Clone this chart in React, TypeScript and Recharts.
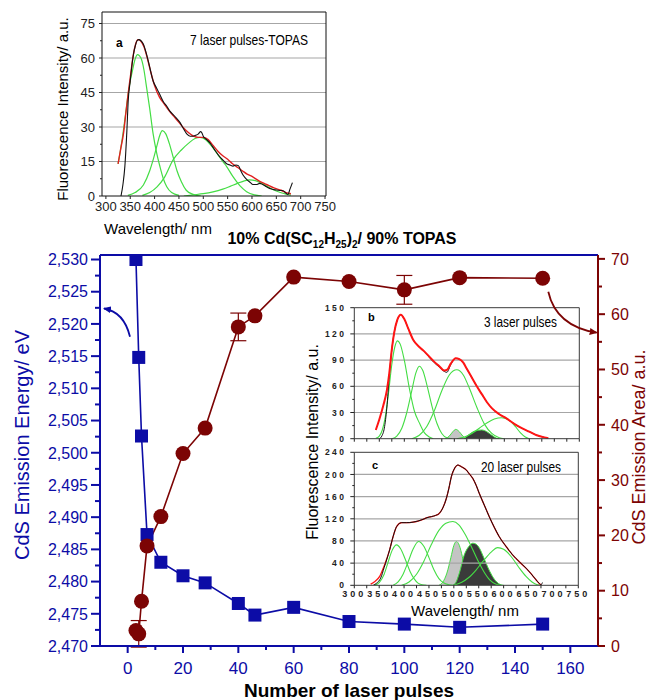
import React from "react";
import { Area, ComposedChart, ErrorBar, Line, ReferenceLine, XAxis, YAxis } from "recharts";

const FONT = "'Liberation Sans', Arial, Helvetica, sans-serif";
const BLUE = "#0c0ca6";
const MAROON = "#7c0404";
const GREEN = "#44dd44";
const RED = "#ff1414";
const GRID = "#a6a6a6";
const FRAME = "#3a3a3a";

// ---- main chart: CdS emission energy / area vs. number of laser pulses
const pulses = [3, 4, 5, 7, 12, 20, 28, 40, 46, 60, 80, 100, 120, 150];
const energy = [2.53, 2.5148, 2.5026, 2.4873, 2.483, 2.4809, 2.4798, 2.4766, 2.4748, 2.476, 2.4738, 2.4734, 2.4729, 2.4734];
const emissionArea = [2.8, 2.2, 8.1, 18.1, 23.4, 34.8, 39.4, 57.7, 59.7, 66.7, 65.9, 64.4, 66.6, 66.5];
const areaErr = [0, 2.4, 0, 0, 0, 0, 0, 2.5, 0, 0, 0, 2.6, 0, 0];

const pulseTicks = [0, 10, 20, 30, 40, 50, 60, 70, 80, 90, 100, 110, 120, 130, 140, 150, 160];
const energyTicks = [
  2.47, 2.4725, 2.475, 2.4775, 2.48, 2.4825, 2.485, 2.4875, 2.49, 2.4925, 2.495, 2.4975, 2.5,
  2.5025, 2.505, 2.5075, 2.51, 2.5125, 2.515, 2.5175, 2.52, 2.5225, 2.525, 2.5275, 2.53,
];
const areaTicks = [0, 5, 10, 15, 20, 25, 30, 35, 40, 45, 50, 55, 60, 65, 70];

// ---- inset a: 7 laser pulses-TOPAS
type Pt = [number, number];
const aMeasured: Pt[] = [
  [331, 0], [335, 5], [339, 13], [343, 28], [346, 42], [350, 50], [353, 56], [357, 62], [360, 65], [364, 67.5],
  [368, 68], [372, 67.5], [377, 66], [383, 62], [390, 56], [397, 50], [404, 47], [411, 44], [418, 41], [425, 39],
  [431, 37], [440, 35], [452, 32], [460, 29], [466, 27], [473, 26], [479, 26], [486, 26.5], [490, 27], [494, 28],
  [497, 27.5], [500, 26], [507, 24.5], [514, 23], [522, 20.5], [534, 17], [541, 15.5], [548, 14], [555, 13.5],
  [561, 13], [567, 13.5], [572, 13.2], [577, 11], [582, 9], [590, 7], [596, 6], [602, 5], [609, 5], [616, 5.5],
  [622, 5], [630, 4], [640, 3], [650, 2.6], [658, 2.4], [664, 2.3], [670, 1.2], [674, 0.7], [678, 3], [683, 5.8],
];
const aFit: Pt[] = [
  [325, 14], [330, 20], [336, 27], [341, 36], [346, 45], [351, 53], [356, 61], [361, 66], [366, 68], [371, 67.5],
  [378, 65], [385, 60], [392, 54], [400, 48], [410, 43], [420, 40], [430, 37], [440, 34.5], [450, 32], [460, 29.5],
  [470, 27.5], [480, 26], [490, 25.5], [500, 25.5], [510, 24.5], [520, 22], [530, 19.5], [540, 17.5], [550, 16],
  [560, 14], [570, 12.5], [580, 11], [590, 9.5], [600, 8.5], [615, 6.5], [630, 5], [645, 3.5], [660, 2.5], [670, 1.5], [680, 1],
];
const aPeak1: Pt[] = [
  [325, 14], [330, 20], [335, 27], [340, 35], [346, 44.7], [350, 50], [355, 55], [360, 59.5], [365, 61.5], [372, 60],
  [378, 55], [383, 48], [390, 38], [397, 27], [404, 19], [411, 12.8], [418, 7.5], [425, 4], [435, 1.5], [450, 0.3],
];
const aPeak2: Pt[] = [
  [345, 0.3], [360, 1.5], [377, 4.8], [390, 11], [397, 15.7], [405, 22], [410, 26], [416, 28.4], [423, 27], [430, 23],
  [438, 17], [446, 11], [455, 6.2], [465, 2.5], [479, 0.7], [495, 0],
];
const aPeak3: Pt[] = [
  [375, 0.3], [390, 1.5], [405, 4], [420, 8], [438, 15.7], [455, 20], [470, 23], [483, 25], [493, 25.5], [505, 24.5],
  [518, 21.5], [530, 18], [540, 15], [548, 12.8], [561, 8.4], [575, 4.5], [589, 1.9], [605, 0.5], [620, 0],
];
const aPeak4: Pt[] = [
  [460, 0], [480, 0.5], [500, 1], [520, 1.8], [540, 3], [555, 4.2], [570, 5.5], [583, 6.5], [595, 7], [607, 6.7],
  [620, 5.5], [633, 4], [645, 2.6], [658, 1.5], [670, 0.8], [680, 0.4],
];

// ---- inset b: 3 laser pulses
const bMeasured: Pt[] = [
  [350, 0], [355, 3], [360, 12], [365, 35], [370, 72], [375, 102], [380, 122], [386, 136], [393, 142], [400, 137],
  [408, 126], [418, 113], [430, 105], [440, 100], [450, 93], [460, 87], [470, 82], [480, 77], [485, 76], [493, 85],
  [503, 92], [510, 91], [518, 87], [525, 80], [535, 70], [545, 60], [555, 51], [565, 42], [575, 35], [590, 28],
  [605, 23], [620, 17], [635, 12], [650, 8], [665, 4], [680, 1.5], [688, 0.5],
];
const bFit: Pt[] = [
  [343, 10], [350, 22], [358, 38], [365, 55], [370, 75], [375, 102], [380, 122], [386, 136], [393, 142], [400, 137],
  [408, 126], [418, 113], [430, 105], [440, 100], [450, 94], [460, 88], [470, 83], [480, 78], [486, 79], [493, 86],
  [503, 92], [510, 91], [518, 87], [525, 80], [535, 70], [545, 60], [555, 51], [565, 42], [575, 35], [590, 28],
  [605, 23], [620, 17], [635, 12], [650, 8], [665, 4], [680, 1.5], [688, 0.5],
];
const bPeak1: Pt[] = [
  [343, 0.5], [350, 3], [356, 10], [362, 25], [368, 50], [375, 85], [381, 105], [386, 112], [392, 108], [400, 90],
  [411, 55], [420, 32], [431, 17], [440, 7], [450, 2], [458, 0],
];
const bPeak2: Pt[] = [
  [375, 0], [385, 3], [395, 12], [405, 30], [415, 55], [423, 75], [430, 83], [437, 78], [445, 62], [455, 38],
  [465, 18], [475, 6], [485, 1], [495, 0],
];
const bPeak3: Pt[] = [
  [415, 0], [430, 4], [445, 14], [460, 32], [475, 55], [490, 73], [505, 79], [518, 73], [530, 58], [545, 36],
  [560, 17], [575, 6], [590, 1], [600, 0],
];
const bPeak4: Pt[] = [
  [505, 0], [520, 2], [535, 6], [550, 12], [565, 18], [580, 22.5], [595, 24], [610, 21], [622, 14], [632, 7], [642, 2], [650, 0],
];
const bGrey: Pt[] = [[482, 0], [490, 3], [497, 8], [503, 10.7], [510, 8], [517, 3], [523, 0]];
const bDark: Pt[] = [[520, 0], [530, 5], [540, 8.5], [555, 10], [565, 8], [575, 4], [585, 0.5], [590, 0]];

// ---- inset c: 20 laser pulses
const cMeasured: Pt[] = [
  [338, 0], [345, 4], [353, 13], [360, 32], [371, 64], [378, 88], [385, 106], [395, 113], [405, 113], [418, 114],
  [428, 116], [438, 119], [446, 122], [455, 124], [463, 126], [471, 130], [478, 140], [485, 157], [490, 175],
  [495, 196], [502, 212], [508, 217], [515, 214], [525, 208], [532, 200], [538, 193], [545, 180], [551, 166],
  [561, 145], [571, 124], [581, 105], [591, 88], [605, 70], [618, 55], [632, 42], [645, 31], [655, 21], [665, 10],
  [672, 3], [675, 1], [678, 5],
];
const cFit: Pt[] = [
  [333, 2], [340, 6], [351, 16], [360, 35], [371, 64], [378, 88], [385, 106], [395, 113], [405, 113], [418, 114],
  [428, 116], [438, 119], [446, 122], [455, 124], [463, 126], [471, 130], [478, 140], [485, 157], [490, 175],
  [495, 196], [502, 212], [508, 217], [515, 214], [525, 208], [532, 200], [538, 193], [545, 180], [551, 166],
  [561, 145], [571, 124], [581, 105], [591, 88], [605, 70], [618, 55], [632, 42], [645, 31], [655, 21], [665, 10],
  [672, 3], [676, 0.5],
];
const cPeak1: Pt[] = [
  [340, 0], [350, 5], [360, 20], [368, 42], [376, 63], [385, 73], [393, 66], [402, 48], [412, 25], [420, 12],
  [428, 4], [436, 1], [445, 0],
];
const cPeak2: Pt[] = [
  [378, 0], [388, 6], [398, 20], [408, 42], [418, 65], [429, 79], [440, 70], [450, 50], [460, 28], [470, 12],
  [480, 4], [490, 1], [498, 0],
];
const cPeak3: Pt[] = [
  [395, 0], [410, 6], [425, 20], [440, 44], [455, 74], [470, 99], [484, 112], [498, 115], [510, 109], [522, 93],
  [535, 70], [548, 45], [560, 25], [572, 10], [585, 2], [595, 0],
];
const cPeak6: Pt[] = [
  [500, 0], [515, 5], [530, 14], [545, 28], [560, 45], [575, 60], [588, 68], [600, 65], [615, 52], [630, 33],
  [645, 16], [657, 6], [668, 1], [675, 0],
];
const cGrey: Pt[] = [
  [470, 0], [478, 6], [486, 22], [494, 50], [500, 72], [505, 79], [511, 72], [517, 52], [523, 28], [530, 10], [537, 2], [542, 0],
];
const cDark: Pt[] = [
  [498, 0], [504, 5], [511, 22], [521, 55], [530, 70], [538, 76], [545, 74], [552, 66], [560, 50], [568, 33],
  [577, 17], [586, 6], [594, 1], [600, 0],
];

const waveTicks = [300, 325, 350, 375, 400, 425, 450, 475, 500, 525, 550, 575, 600, 625, 650, 675, 700, 725, 750];
const aWaveTicks = [300, 350, 400, 450, 500, 550, 600, 650, 700, 750];
const aIntTicks = [0, 7.5, 15, 22.5, 30, 37.5, 45, 52.5, 60, 67.5, 75];
const aGrid = [15, 30, 45, 60, 75];
const bIntTicks = [0, 15, 30, 45, 60, 75, 90, 105, 120, 135, 150];
const bGrid = [30, 60, 90, 120];
const cIntTicks = [0, 20, 40, 60, 80, 100, 120, 140, 160, 180, 200, 220, 240];
const cGrid = [40, 80, 120, 160, 200];

const mainData = pulses.map((p, i) => ({ p, energy: energy[i], area: emissionArea[i], err: areaErr[i] }));
const pts = (a: Pt[]) => a.map(([x, y]) => ({ x, y }));

// tick renderer with major/minor marks; tickSize/tickMargin are 0 so x,y sit on the axis line
type TickOpt = {
  side: "left" | "right" | "bottom";
  step: number;
  len: number;
  minorLen: number;
  gap: number;
  color: string;
  size: number;
  weight?: number | string;
  spacing?: number;
  labels?: boolean;
  line?: string;
  sw?: number;
  fmt?: (v: number) => string;
};

const makeTick = (o: TickOpt) => (props: any) => {
  const { x, y, payload } = props;
  const v = payload.value as number;
  const r = v / o.step;
  const major = Math.abs(r - Math.round(r)) < 1e-6;
  const len = major ? o.len : o.minorLen;
  const label = major && o.labels !== false ? (o.fmt ? o.fmt(v) : String(v)) : null;
  const stroke = o.line ?? o.color;
  const sw = o.sw ?? 1;
  const txt = { fill: o.color, fontSize: o.size, fontFamily: FONT, fontWeight: o.weight, letterSpacing: o.spacing };
  if (o.side === "bottom") {
    return (
      <g>
        <line x1={x} y1={y} x2={x} y2={y + len} stroke={stroke} strokeWidth={sw} />
        {label && (
          <text x={x} y={y + len + o.gap} dy="0.75em" textAnchor="middle" {...txt}>
            {label}
          </text>
        )}
      </g>
    );
  }
  const dir = o.side === "left" ? -1 : 1;
  return (
    <g>
      <line x1={x} y1={y} x2={x + dir * len} y2={y} stroke={stroke} strokeWidth={sw} />
      {label && (
        <text x={x + dir * (len + o.gap)} y={y} dy="0.36em" textAnchor={dir < 0 ? "end" : "start"} {...txt}>
          {label}
        </text>
      )}
    </g>
  );
};

const mainXTick = makeTick({ side: "bottom", step: 20, len: 7, minorLen: 4, gap: 8, color: BLUE, size: 17, sw: 2 });
const energyTick = makeTick({
  side: "left", step: 0.005, len: 9, minorLen: 5, gap: 3, color: BLUE, size: 16, sw: 2,
  fmt: (v) => v.toFixed(3).replace(".", ","),
});
const areaTick = makeTick({ side: "right", step: 10, len: 7, minorLen: 4, gap: 6, color: MAROON, size: 16, sw: 2 });

const aXTick = makeTick({ side: "bottom", step: 50, len: 3, minorLen: 2, gap: 2, color: "#222", size: 13 });
const aYTick = makeTick({ side: "left", step: 15, len: 3, minorLen: 2, gap: 4, color: "#222", size: 13 });
const bXTick = makeTick({ side: "bottom", step: 50, len: 3, minorLen: 3, gap: 2, color: "#222", size: 9, labels: false });
const cXTick = makeTick({ side: "bottom", step: 50, len: 3, minorLen: 3, gap: 2, color: "#222", size: 9, spacing: 3, weight: 600 });
const bYTick = makeTick({ side: "left", step: 30, len: 4, minorLen: 2, gap: 4, color: "#222", size: 8.5, spacing: 2.4, weight: 600 });
const cYTick = makeTick({ side: "left", step: 40, len: 4, minorLen: 2, gap: 4, color: "#222", size: 8.5, spacing: 2.4, weight: 600 });

const squareDot = (p: any) => (
  <rect key={`sq${p.index}`} x={p.cx - 6.5} y={p.cy - 6.5} width={13} height={13} fill={BLUE} />
);

function MainChart() {
  return (
    <div style={{ position: "absolute", left: 0, top: 0 }}>
      <ComposedChart width={648} height={700} data={mainData} margin={{ top: 255, right: 6, bottom: 24, left: 40 }}>
        <XAxis
          type="number" dataKey="p" domain={[-10, 170]} ticks={pulseTicks} interval={0} allowDataOverflow height={30}
          tickLine={false} tickSize={0} tickMargin={0} axisLine={{ stroke: BLUE, strokeWidth: 2 }} tick={mainXTick}
        />
        <YAxis
          yAxisId="e" type="number" domain={[2.47, 2.5307]} ticks={energyTicks} interval={0} allowDataOverflow width={60}
          tickLine={false} tickSize={0} tickMargin={0} axisLine={{ stroke: BLUE, strokeWidth: 2 }} tick={energyTick}
        />
        <YAxis
          yAxisId="a" orientation="right" type="number" domain={[0, 70.7]} ticks={areaTicks} interval={0} allowDataOverflow
          width={44} tickLine={false} tickSize={0} tickMargin={0} axisLine={{ stroke: MAROON, strokeWidth: 2 }} tick={areaTick}
        />
        <ReferenceLine yAxisId="e" y={2.5307} stroke={BLUE} strokeWidth={2} />
        <Line
          yAxisId="e" dataKey="energy" type="linear" stroke={BLUE} strokeWidth={1.6} dot={squareDot} activeDot={false}
          isAnimationActive={false}
        />
        <Line
          yAxisId="a" dataKey="area" type="linear" stroke={MAROON} strokeWidth={1.6}
          dot={{ r: 7.5, fill: MAROON, stroke: "none" }} activeDot={false} isAnimationActive={false}
        >
          <ErrorBar dataKey="err" width={8} stroke={MAROON} strokeWidth={1.2} direction="y" />
        </Line>
      </ComposedChart>
    </div>
  );
}

type Box = { l: number; r: number; t: number; b: number };
type InsetProps = {
  box: Box;
  xDomain: [number, number];
  yDomain: [number, number];
  xTicks: number[];
  yTicks: number[];
  grid: number[];
  xTick: any;
  yTick: any;
  xAxisH: number;
  frame: string;
  children: React.ReactNode;
};

function Inset({ box, xDomain, yDomain, xTicks, yTicks, grid, xTick, yTick, xAxisH, frame, children }: InsetProps) {
  return (
    <div style={{ position: "absolute", left: 0, top: 0 }}>
      <ComposedChart
        width={648}
        height={700}
        margin={{ top: box.t, left: box.l - 40, right: 648 - box.r, bottom: 700 - box.b - xAxisH }}
      >
        <XAxis
          type="number" dataKey="x" domain={xDomain} ticks={xTicks} interval={0} allowDataOverflow height={xAxisH}
          tickLine={false} tickSize={0} tickMargin={0} axisLine={{ stroke: frame }} tick={xTick}
        />
        <YAxis
          type="number" domain={yDomain} ticks={yTicks} interval={0} allowDataOverflow width={40}
          tickLine={false} tickSize={0} tickMargin={0} axisLine={{ stroke: frame }} tick={yTick}
        />
        {grid.map((g) => (
          <ReferenceLine key={g} y={g} stroke={GRID} strokeWidth={1.2} />
        ))}
        <ReferenceLine y={yDomain[1]} stroke={frame} />
        <ReferenceLine x={xDomain[1]} stroke={frame} />
        {children}
      </ComposedChart>
    </div>
  );
}

const curve = (data: Pt[], color: string, width: number, key: string) => (
  <Line
    key={key} data={pts(data)} dataKey="y" type="monotone" stroke={color} strokeWidth={width}
    dot={false} activeDot={false} isAnimationActive={false}
  />
);
const filled = (data: Pt[], fill: string, key: string) => (
  <Area
    key={key} data={pts(data)} dataKey="y" type="monotone" stroke={GREEN} strokeWidth={1} fill={fill}
    fillOpacity={1} dot={false} activeDot={false} isAnimationActive={false}
  />
);

function Labels() {
  const t = { fontFamily: FONT };
  return (
    <svg width={648} height={700} style={{ position: "absolute", left: 0, top: 0, pointerEvents: "none" }}>
      <defs>
        <marker id="hb" markerWidth="8" markerHeight="8" refX="7" refY="4" orient="auto" markerUnits="userSpaceOnUse">
          <path d="M0,0.5 L8,4 L0,7.5 z" fill={BLUE} />
        </marker>
        <marker id="hr" markerWidth="8" markerHeight="8" refX="7" refY="4" orient="auto" markerUnits="userSpaceOnUse">
          <path d="M0,0.5 L8,4 L0,7.5 z" fill={MAROON} />
        </marker>
      </defs>
      {/* inset a */}
      <text x={116} y={47} fontSize={12} fontWeight="bold" {...t}>a</text>
      <text x={190} y={45} fontSize={15} textLength={118} lengthAdjust="spacingAndGlyphs" {...t}>7 laser pulses-TOPAS</text>
      <text x={62} y={109} fontSize={15} textAnchor="middle" dominantBaseline="central" transform="rotate(-90 62 109)" {...t}>
        Fluorescence Intensity/ a.u.
      </text>
      <text x={158} y={234} fontSize={15} textAnchor="middle" {...t}>Wavelength/ nm</text>
      {/* title */}
      <text x={342} y={244} fontSize={16} fontWeight="bold" textAnchor="middle" {...t}>
        10% Cd(SC<tspan fontSize={10} dy={4}>12</tspan>
        <tspan dy={-4}>H</tspan>
        <tspan fontSize={10} dy={4}>25</tspan>
        <tspan dy={-4}>)</tspan>
        <tspan fontSize={10} dy={4}>2</tspan>
        <tspan dy={-4}>/ 90% TOPAS</tspan>
      </text>
      {/* main axis titles */}
      <text x={22} y={445} fontSize={20} fill={BLUE} textAnchor="middle" dominantBaseline="central" transform="rotate(-90 22 445)" {...t}>
        CdS Emission Energy/ eV
      </text>
      <text x={639} y={447} fontSize={18} fill={MAROON} textAnchor="middle" dominantBaseline="central" transform="rotate(-90 639 447)" {...t}>
        CdS Emission Area/ a.u.
      </text>
      <text x={349} y={697} fontSize={19} fontWeight="bold" textAnchor="middle" {...t}>Number of laser pulses</text>
      {/* insets b, c */}
      <text x={368} y={321} fontSize={11} fontWeight="bold" {...t}>b</text>
      <text x={484} y={327} fontSize={14} textLength={73} lengthAdjust="spacingAndGlyphs" {...t}>3 laser pulses</text>
      <text x={372} y={469} fontSize={11} fontWeight="bold" {...t}>c</text>
      <text x={481} y={472} fontSize={14} textLength={80} lengthAdjust="spacingAndGlyphs" {...t}>20 laser pulses</text>
      <text x={312} y={442} fontSize={16} textAnchor="middle" dominantBaseline="central" transform="rotate(-90 312 442)" {...t}>
        Fluorescence Intensity/ a.u.
      </text>
      <text x={465} y={616} fontSize={15} textAnchor="middle" {...t}>Wavelength/ nm</text>
      {/* arrows pointing at the axes */}
      <path d="M130 336.7 Q124 312 104 308.5" fill="none" stroke={BLUE} strokeWidth={1.8} markerEnd="url(#hb)" />
      <path d="M548.3 291.7 Q556 326 596.7 332.7" fill="none" stroke={MAROON} strokeWidth={1.8} markerEnd="url(#hr)" />
    </svg>
  );
}

export default function App() {
  return (
    <div style={{ position: "absolute", left: 0, top: 0, width: 648, height: 700, background: "#fff", overflow: "hidden" }}>
      <MainChart />
      <Inset
        box={{ l: 102, r: 326, t: 12, b: 196 }} xDomain={[292, 752]} yDomain={[0, 80]} xTicks={aWaveTicks}
        yTicks={aIntTicks} grid={aGrid} xTick={aXTick} yTick={aYTick} xAxisH={20} frame="#111"
      >
        {curve(aPeak1, GREEN, 1.2, "a1")}
        {curve(aPeak2, GREEN, 1.2, "a2")}
        {curve(aPeak3, GREEN, 1.2, "a3")}
        {curve(aPeak4, GREEN, 1.2, "a4")}
        {curve(aFit, "#e02020", 1.4, "af")}
        {curve(aMeasured, "#111", 1.1, "am")}
      </Inset>
      <Inset
        box={{ l: 354.3, r: 579.3, t: 307.7, b: 438.7 }} xDomain={[300, 750]} yDomain={[0, 150]} xTicks={waveTicks}
        yTicks={bIntTicks} grid={bGrid} xTick={bXTick} yTick={bYTick} xAxisH={6} frame={FRAME}
      >
        {filled(bGrey, "#c4c4c4", "bg")}
        {filled(bDark, "#3a3a3a", "bd")}
        {curve(bPeak1, GREEN, 1.1, "b1")}
        {curve(bPeak2, GREEN, 1.1, "b2")}
        {curve(bPeak3, GREEN, 1.1, "b3")}
        {curve(bPeak4, GREEN, 1.1, "b4")}
        {curve(bMeasured, "#111", 1, "bm")}
        {curve(bFit, RED, 2, "bf")}
      </Inset>
      <Inset
        box={{ l: 354.3, r: 578.3, t: 452.3, b: 585.3 }} xDomain={[300, 750]} yDomain={[0, 240]} xTicks={waveTicks}
        yTicks={cIntTicks} grid={cGrid} xTick={cXTick} yTick={cYTick} xAxisH={16} frame={FRAME}
      >
        {filled(cGrey, "#c4c4c4", "cg")}
        {filled(cDark, "#3a3a3a", "cd")}
        {curve(cPeak1, GREEN, 1.1, "c1")}
        {curve(cPeak2, GREEN, 1.1, "c2")}
        {curve(cPeak3, GREEN, 1.1, "c3")}
        {curve(cPeak6, GREEN, 1.1, "c6")}
        {curve(cFit, RED, 1.3, "cf")}
        {curve(cMeasured, "#111", 1, "cm")}
      </Inset>
      <Labels />
    </div>
  );
}
